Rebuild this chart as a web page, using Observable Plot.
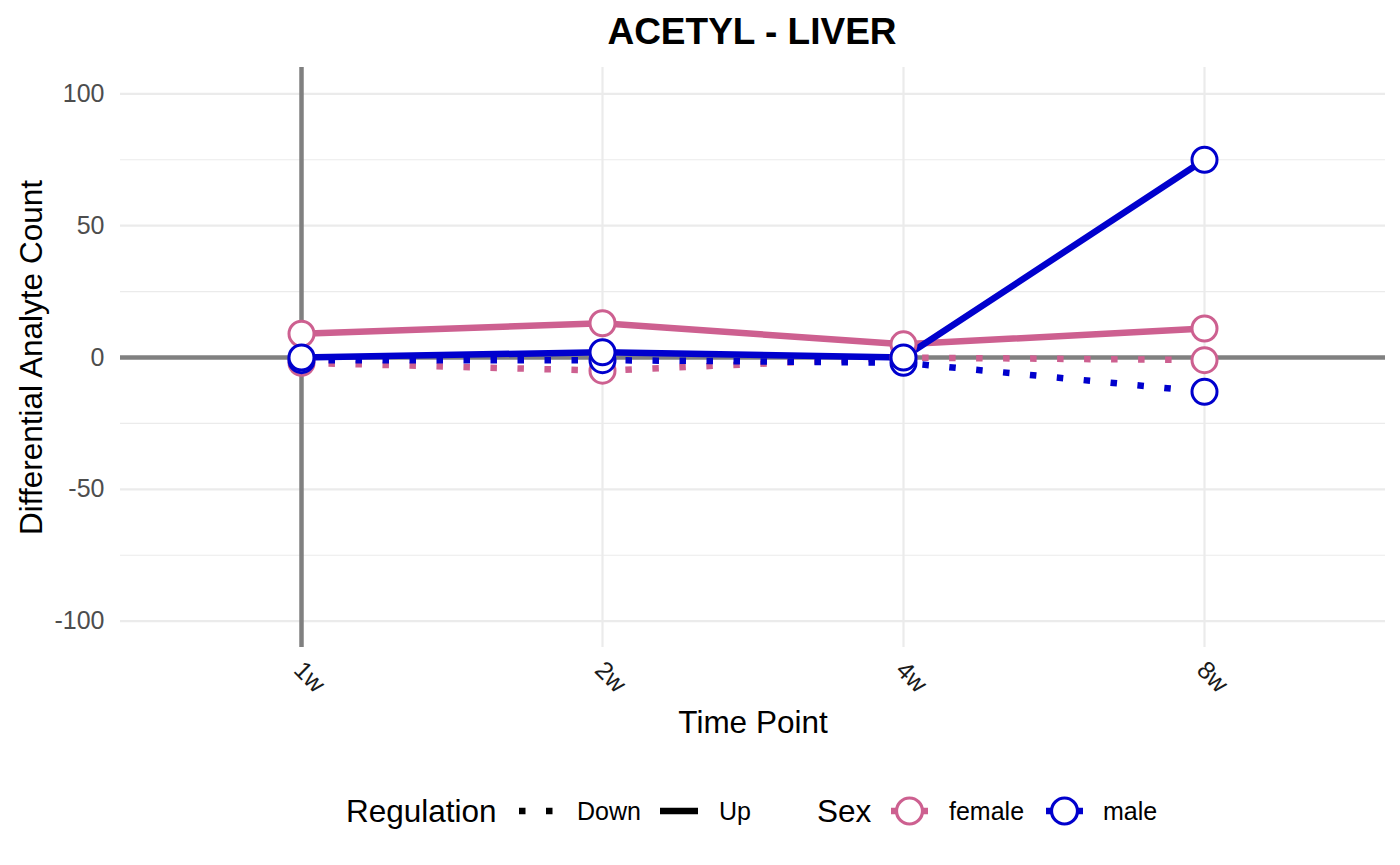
<!DOCTYPE html>
<html><head><meta charset="utf-8">
<script src="https://cdn.jsdelivr.net/npm/d3@7"></script>
<script src="https://cdn.jsdelivr.net/npm/@observablehq/plot@0.6"></script>
<style>
body{margin:0;background:#fff;font-family:"Liberation Sans",Arial,Helvetica,sans-serif;}
#wrap{position:relative;width:1400px;height:865px;overflow:hidden;}
svg{display:block}
</style></head><body><div id="wrap"></div>
<script>
const timePoints = ["1w", "2w", "4w", "8w"];
const femaleUp = [9, 13, 5, 11];
const femaleDown = [-2, -5, 0, -1];
const maleUp = [0, 2, 0, 75];
const maleDown = [-1, -1, -2, -13];
const yTicks = [-100, -50, 0, 50, 100];
const yMinor = [-75, -25, 25, 75];
const sexes = ["female", "male"];
const sexColors = ["#CD6090", "#0000CD"];
const regulations = ["Down", "Up"];

const FONT = "Liberation Sans, Arial, Helvetica, sans-serif";
const series = [
  {sex: "female", regulation: "Down", values: femaleDown},
  {sex: "female", regulation: "Up", values: femaleUp},
  {sex: "male", regulation: "Down", values: maleDown},
  {sex: "male", regulation: "Up", values: maleUp}
];
const rows = series.flatMap(s => s.values.map((v, i) => ({time: timePoints[i], count: v, sex: s.sex, regulation: s.regulation})));

const wrap = document.getElementById("wrap");

// Title
const titleSvg = d3.create("svg").attr("width", 1400).attr("height", 60);
titleSvg.append("text").attr("x", 752).attr("y", 44).attr("text-anchor", "middle")
  .attr("font-family", FONT).attr("font-weight", "bold").attr("font-size", 37).attr("fill", "#000")
  .text("ACETYL - LIVER");
wrap.appendChild(titleSvg.node());

const DOT = "6.5,20.5";
const lineMarks = series.map(s => Plot.line(rows.filter(r => r.sex === s.sex && r.regulation === s.regulation), {
  x: "time", y: "count", stroke: "sex", strokeWidth: 6.5,
  strokeDasharray: s.regulation === "Down" ? DOT : null,
  strokeLinecap: "butt", strokeLinejoin: "round"
}));

const plot = Plot.plot({
  width: 1400, height: 705,
  marginLeft: 120, marginRight: 15, marginTop: 7, marginBottom: 118,
  x: {type: "point", domain: timePoints, padding: 0.6, axis: null},
  y: {domain: [-110, 110], axis: null},
  color: {domain: sexes, range: sexColors},
  style: {fontFamily: FONT, background: "transparent", overflow: "visible"},
  marks: [
    Plot.ruleY(yMinor, {stroke: "#ebebeb", strokeWidth: 1.2}),
    Plot.ruleY(yTicks, {stroke: "#ebebeb", strokeWidth: 2.2}),
    Plot.ruleX(timePoints, {x: d => d, stroke: "#ebebeb", strokeWidth: 2.2}),
    Plot.ruleY([0], {stroke: "#808080", strokeWidth: 4.5}),
    Plot.ruleX([timePoints[0]], {x: d => d, stroke: "#808080", strokeWidth: 4.5}),
    ...lineMarks,
    Plot.dot(rows, {x: "time", y: "count", stroke: "sex", fill: "white", r: 12.5, strokeWidth: 3}),
    Plot.text(yTicks, {y: d => d, text: d => String(d), frameAnchor: "left", textAnchor: "end", dx: -16, fontSize: 25, fill: "#4d4d4d"}),
    Plot.text(timePoints, {x: d => d, text: d => d, frameAnchor: "bottom", rotate: 45, textAnchor: "start", dx: -9, dy: 24, fontSize: 25, fill: "#1a1a1a"}),
    Plot.text(["Time Point"], {text: d => d, frameAnchor: "bottom", textAnchor: "middle", lineAnchor: "bottom", dy: 85, fontSize: 31.5, fill: "#000"}),
    Plot.text(["Differential Analyte Count"], {text: d => d, frameAnchor: "left", textAnchor: "middle", rotate: -90, lineAnchor: "bottom", dx: -79, fontSize: 31.5, fill: "#000"})
  ]
});
wrap.appendChild(plot);

// Legend
const lg = d3.create("svg").attr("width", 1400).attr("height", 100).attr("font-family", FONT);
const cy = 46;
lg.append("text").attr("x", 346).attr("y", cy + 11).attr("font-size", 31.5).text("Regulation");
lg.append("line").attr("x1", 519).attr("x2", 556).attr("y1", cy).attr("y2", cy)
  .attr("stroke", "#000").attr("stroke-width", 6.5).attr("stroke-dasharray", DOT);
lg.append("text").attr("x", 577).attr("y", cy + 9).attr("font-size", 25).text(regulations[0]);
lg.append("line").attr("x1", 660).attr("x2", 698).attr("y1", cy).attr("y2", cy)
  .attr("stroke", "#000").attr("stroke-width", 6.5);
lg.append("text").attr("x", 719).attr("y", cy + 9).attr("font-size", 25).text(regulations[1]);
lg.append("text").attr("x", 817).attr("y", cy + 11).attr("font-size", 31.5).text("Sex");
const keyX = [891, 1046], labX = [949, 1103];
sexes.forEach((s, i) => {
  lg.append("line").attr("x1", keyX[i]).attr("x2", keyX[i] + 37).attr("y1", cy).attr("y2", cy)
    .attr("stroke", sexColors[i]).attr("stroke-width", 6.5);
  lg.append("circle").attr("cx", keyX[i] + 18.5).attr("cy", cy).attr("r", 13)
    .attr("fill", "white").attr("stroke", sexColors[i]).attr("stroke-width", 3.2);
  lg.append("text").attr("x", labX[i]).attr("y", cy + 9).attr("font-size", 25).text(s);
});
wrap.appendChild(lg.node());
</script></body></html>
